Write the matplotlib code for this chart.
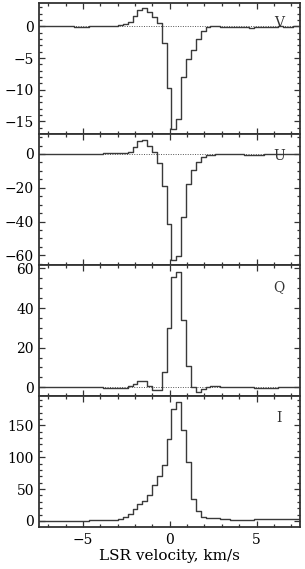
import numpy as np
import matplotlib
matplotlib.use("Agg")
import matplotlib.pyplot as plt
from matplotlib.ticker import MultipleLocator

# channel centres, km/s
velocity = [-7.60, -7.32, -7.04, -6.76, -6.48, -6.20, -5.92, -5.64, -5.36, -5.08,
            -4.80, -4.52, -4.24, -3.96, -3.68, -3.40, -3.12, -2.84, -2.56, -2.28,
            -2.00, -1.72, -1.44, -1.16, -0.88, -0.60, -0.32, -0.04, 0.24, 0.52,
            0.80, 1.08, 1.36, 1.64, 1.92, 2.20, 2.48, 2.76, 3.04, 3.32,
            3.60, 3.88, 4.16, 4.44, 4.72, 5.00, 5.28, 5.56, 5.84, 6.12,
            6.40, 6.68, 6.96, 7.24, 7.52]

stokes_v = [0, 0, 0, 0, 0, 0, 0, 0, -0.05, -0.05,
            -0.05, 0, 0.05, 0.1, 0.1, 0.1, 0.1, 0.2, 0.35, 0.7,
            1.6, 2.65, 2.9, 2.3, 1.5, 0.55, -2.6, -9.8, -16.2, -14.6,
            -8.0, -5.2, -3.7, -2.0, -0.7, -0.05, 0.05, 0.0, -0.05, -0.05,
            -0.05, -0.05, -0.1, -0.15, -0.2, -0.15, -0.1, -0.05, -0.05, -0.05,
            0.0, -0.05, -0.1, 0.0, 0.0]

stokes_u = [0, 0, 0, 0, 0, 0, 0, 0, 0, 0,
            0, 0.1, 0.1, 0.2, 0.3, 0.3, 0.4, 0.4, 0.6, 1.2,
            4.3, 7.8, 8.0, 4.9, 1.4, -5.3, -19, -41.5, -63, -60.5,
            -37.5, -17.8, -9.4, -5.0, -2.0, -0.6, -0.4, -0.3, -0.2, -0.2,
            -0.2, -0.2, -0.3, -0.4, -0.5, -0.6, -0.5, -0.3, -0.2, -0.1,
            0, 0, 0, 0, 0]

stokes_q = [0.2, 0.2, 0.2, 0.2, 0.2, 0.2, 0.1, 0.1, 0.1, 0.1,
            0.1, 0.0, 0.0, -0.1, -0.2, -0.2, -0.3, -0.3, -0.2, 0.5,
            1.5, 3.2, 3.2, 0.8, -1.6, -1.4, 7.8, 30, 55.8, 58.3,
            34, 10.8, 0.2, -2.4, -1.0, 0.2, 0.4, 0.4, 0.3, 0.3,
            0.2, 0.2, 0.1, 0.0, -0.1, -0.3, -0.3, -0.3, -0.2, -0.2,
            -0.1, 0.0, 0.0, 0.0, 0.0]

stokes_i = [0.5, 0.5, 0.5, 0.5, 0.5, 0.5, 0.6, 0.6, 0.6, 0.7,
            0.7, 0.8, 0.9, 1.0, 1.2, 1.6, 2.2, 3, 6, 11,
            18, 26, 32, 41, 57, 71, 88, 128, 175, 186,
            143, 92, 34, 16, 6, 5, 4.5, 4, 3.2, 2.6,
            2.2, 2.0, 1.9, 1.9, 2.0, 2.3, 2.5, 2.6, 2.6, 2.6,
            2.5, 2.5, 2.4, 2.4, 2.4]

panels = [("V", stokes_v, (-17.0, 3.7), 5, 1, True),
          ("U", stokes_u, (-65.7, 11.8), 20, 5, True),
          ("Q", stokes_q, (-4.4, 61.7), 20, 5, True),
          ("I", stokes_i, (-9.5, 196), 50, 10, False)]

plt.rcParams['font.family'] = ['DejaVu Serif']
fig, axes = plt.subplots(4, 1, figsize=(3.05, 5.69), dpi=100, sharex=True)
fig.subplots_adjust(left=0.1295, right=0.9836, top=0.9947, bottom=0.0738, hspace=0)

for ax, (name, vals, ylim, major, minor, zero) in zip(axes, panels):
    if zero:
        ax.axhline(0, color="#555555", lw=0.7, ls=(0, (1, 1.5)), zorder=1)
    ax.step(velocity, vals, where="mid", color="#3a3a3a", lw=1.0, zorder=2)
    ax.set_ylim(*ylim)
    ax.set_xlim(-7.5, 7.5)
    ax.yaxis.set_major_locator(MultipleLocator(major))
    ax.yaxis.set_minor_locator(MultipleLocator(minor))
    ax.xaxis.set_major_locator(MultipleLocator(5))
    ax.xaxis.set_minor_locator(MultipleLocator(1))
    ax.tick_params(which="both", direction="in", top=True, right=True,
                   labelsize=10, color="#333333", width=0.9, pad=4)
    ax.tick_params(which="major", length=4.5)
    ax.tick_params(which="minor", length=2.5)
    for sp in ax.spines.values():
        sp.set_linewidth(1.3)
        sp.set_color("#333333")
    ax.text(0.92, 0.83 if name != "V" else 0.85, name, transform=ax.transAxes,
            ha="center", va="center", fontsize=10, color="#333333")

axes[-1].set_xlabel("LSR velocity, km/s", fontsize=11, labelpad=2)

fig.savefig("out.png", dpi=100)
